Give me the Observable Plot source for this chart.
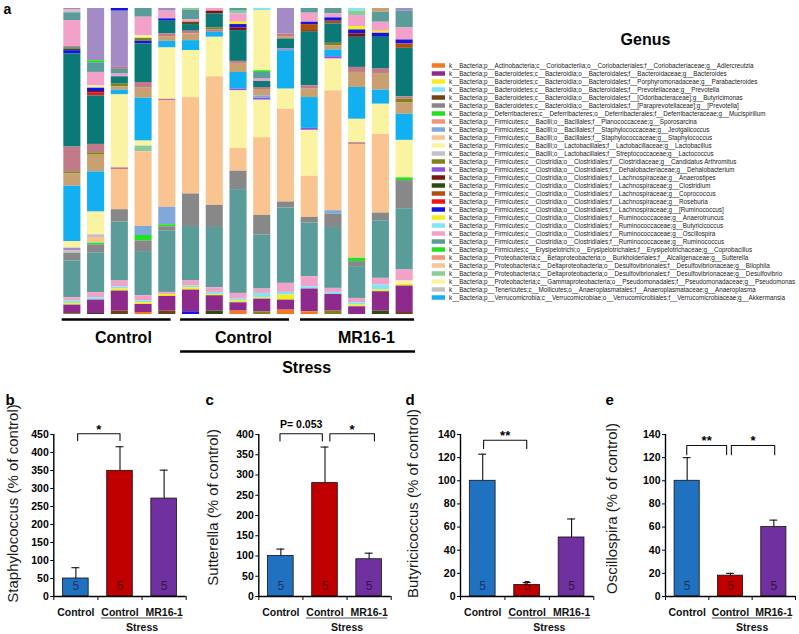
<!DOCTYPE html>
<html><head><meta charset="utf-8">
<script src="https://cdn.jsdelivr.net/npm/d3@7"></script>
<script src="https://cdn.jsdelivr.net/npm/@observablehq/plot@0.6"></script>
<style>
html,body{margin:0;padding:0;background:#fff;}
#fig{position:relative;width:799px;height:634px;overflow:hidden;background:#fff;}
#fig > svg{position:absolute;}
</style></head><body><div id="fig"></div>
<script>
// ---------- Panel a: relative abundance per sample (top -> bottom) ----------
const bar01 = [["otherB",3],["Oscillospira",4],["Lactococcus",6],["Ruminococcus",23],["Oscillospira",78],["[Prevotella]",7],["Clostridium",5],["[Ruminococcus]",10],["otherA",278],["otherC",74],["Candidatus Arthromitus",6],["otherD",37],["Akkermansia",165],["Lactobacillus",20],["otherB",8],["Lactococcus",7],["[Prevotella]",23],["Ruminococcus",110],["Oscillospira",10],["Butyricicoccus",7],["Anaerotruncus",5],["Bacteroides",25],["Candidatus Arthromitus",3]];
const bar02 = [["otherB",156],["Mucispirillum",6],["Ruminococcus",29],["Oscillospira",40],["Pseudomonas",7],["[Ruminococcus]",10],["Anaerostipes",5],["Roseburia",8],["otherA",145],["otherC",25],["Candidatus Arthromitus",7],["otherD",50],["Akkermansia",120],["Lactobacillus",68],["Lactococcus",8],["Staphylococcus",17],["Mucispirillum",5],["[Prevotella]",25],["Ruminococcus",118],["Oscillospira",15],["Butyricicoccus",7],["Bacteroides",40],["Clostridium",3]];
const bar03 = [["[Ruminococcus]",8],["otherB",168],["otherC",6],["Ruminococcus",14],["Oscillospira",8],["otherA",22],["Candidatus Arthromitus",8],["otherD",10],["Akkermansia",14],["Lactobacillus",218],["otherC",5],["Staphylococcus",120],["[Prevotella]",37],["Ruminococcus",176],["Oscillospira",18],["Butyricicoccus",6],["Anaerotruncus",6],["Bacteroides",60],["Butyricimonas",10]];
const bar04 = [["Ruminococcus",26],["Oscillospira",55],["Lactobacillus",8],["Candidatus Arthromitus",9],["[Ruminococcus]",8],["otherA",115],["otherC",17],["otherD",30],["Akkermansia",128],["Lactobacillus",15],["Desulfovibrio",17],["Staphylococcus",223],["Jeotgalicoccus",27],["Mucispirillum",16],["[Prevotella]",32],["Ruminococcus",132],["Oscillospira",16],["Butyricicoccus",5],["Anaerotruncus",5],["Bacteroides",24],["Adlercreutzia",6]];
const bar05 = [["otherB",8],["Oscillospira",23],["[Ruminococcus]",7],["otherA",38],["otherC",8],["otherD",14],["Akkermansia",20],["Lactobacillus",153],["otherC",5],["Staphylococcus",318],["Jeotgalicoccus",52],["Mucispirillum",6],["[Prevotella]",12],["Ruminococcus",184],["Oscillospira",6],["Anaerotruncus",6],["Bacteroides",44],["Butyricimonas",10]];
const bar06 = [["Desulfovibrio",6],["Ruminococcus",28],["Oscillospira",7],["Butyricimonas",7],["otherA",20],["otherC",8],["otherD",20],["Akkermansia",30],["Lactobacillus",140],["Staphylococcus",288],["[Prevotella]",97],["Ruminococcus",163],["Oscillospira",15],["Butyricicoccus",5],["Anaerotruncus",7],["Bacteroides",65],["[Ruminococcus]",8]];
const bar07 = [["Oscillospira",8],["Anaerostipes",8],["otherA",42],["Candidatus Arthromitus",6],["otherC",7],["Akkermansia",15],["Lactobacillus",118],["Staphylococcus",384],["[Prevotella]",66],["Ruminococcus",180],["Oscillospira",14],["Butyricicoccus",6],["Anaerotruncus",4],["Bacteroides",46],["Clostridium",10]];
const bar08 = [["Ruminococcus",8],["Desulfovibrio",8],["Oscillospira",25],["Anaerotruncus",7],["[Ruminococcus]",10],["Anaerostipes",8],["otherA",92],["otherC",6],["otherD",27],["Akkermansia",50],["Dehalobacterium",5],["Lactobacillus",172],["Staphylococcus",68],["[Prevotella]",55],["Ruminococcus",310],["Oscillospira",17],["Butyricicoccus",6],["Anaerotruncus",5],["Bacteroides",25],["Adlercreutzia",10]];
const bar09 = [["Butyricicoccus",6],["Lactobacillus",180],["Mucispirillum",5],["Ruminococcus",20],["Oscillospira",7],["otherA",18],["otherC",6],["otherD",19],["Jeotgalicoccus",7],["Dehalobacterium",6],["Lactobacillus",112],["Staphylococcus",232],["[Prevotella]",58],["Ruminococcus",162],["Oscillospira",13],["Butyricicoccus",13],["Anaerotruncus",4],["Bacteroides",38],["Candidatus Arthromitus",8]];
const bar10 = [["otherB",76],["otherC",8],["otherD",7],["otherA",30],["otherB",5],["Akkermansia",115],["Lactobacillus",60],["Staphylococcus",277],["[Prevotella]",18],["Ruminococcus",225],["Oscillospira",27],["Butyricicoccus",8],["Anaerotruncus",15],["Bacteroides",30],["Adlercreutzia",13]];
const bar11 = [["Ruminococcus",14],["Oscillospira",27],["[Ruminococcus]",7],["Coprococcus",18],["Butyricimonas",5],["otherA",160],["otherC",10],["otherD",25],["Akkermansia",92],["Dehalobacterium",6],["Lactobacillus",137],["Staphylococcus",123],["[Prevotella]",17],["Ruminococcus",160],["Oscillospira",30],["Butyricicoccus",7],["Bacteroides",68],["Adlercreutzia",8]];
const bar12 = [["Ruminococcus",16],["Oscillospira",12],["[Ruminococcus]",10],["Coprococcus",8],["otherA",58],["Candidatus Arthromitus",7],["otherD",13],["Akkermansia",20],["Dehalobacterium",7],["Lactobacillus",95],["Staphylococcus",358],["Jeotgalicoccus",10],["[Prevotella]",40],["Ruminococcus",182],["Oscillospira",12],["Butyricicoccus",6],["Bacteroides",50],["Candidatus Arthromitus",10]];
const bar13 = [["Butyricicoccus",8],["Desulfovibrio",13],["Oscillospira",33],["Anaerotruncus",10],["[Ruminococcus]",12],["Anaerostipes",10],["otherA",90],["otherC",15],["otherD",45],["Akkermansia",95],["Lactobacillus",70],["otherC",5],["Staphylococcus",340],["Mucispirillum",10],["[Prevotella]",15],["Ruminococcus",95],["Oscillospira",13],["Butyricicoccus",7],["Anaerotruncus",5],["Bacteroides",23]];
const bar14 = [["otherD",11],["Ruminococcus",30],["Oscillospira",27],["Anaerotruncus",6],["[Ruminococcus]",12],["otherA",95],["otherC",13],["otherD",50],["Akkermansia",42],["Lactobacillus",90],["Staphylococcus",235],["[Prevotella]",23],["Ruminococcus",172],["Oscillospira",20],["Butyricicoccus",15],["Anaerotruncus",5],["Bacteroides",58],["Clostridium",10]];
const bar15 = [["otherB",8],["Ruminococcus",50],["Oscillospira",36],["[Ruminococcus]",12],["Coprococcus",13],["otherA",145],["otherC",7],["Candidatus Arthromitus",10],["otherD",35],["Akkermansia",78],["Lactobacillus",112],["Mucispirillum",8],["[Prevotella]",84],["Ruminococcus",183],["Oscillospira",33],["Pseudomonas",10],["Anaerotruncus",5],["Bacteroides",79],["Butyricimonas",6]];
const barsA = [bar01,bar02,bar03,bar04,bar05,bar06,bar07,bar08,bar09,bar10,bar11,bar12,bar13,bar14,bar15];

const groupLabels = ["Control","Control","MR16-1"];
const groupFrom = [0.57, 5.56, 10.61];
const groupTo = [5.16, 10.15, 15.42];
const groupLabelAt = [3.15, 8.21, 13.39];
const stressSpan = {label:"Stress", from:5.56, to:15.46, at:10.87};

// ---------- Legend ----------
const genera = ["Adlercreutzia","Bacteroides","Parabacteroides","Prevotella","Butyricimonas","[Prevotella]","Mucispirillum","Sporosarcina","Jeotgalicoccus","Staphylococcus","Lactobacillus","Lactococcus","Candidatus Arthromitus","Dehalobacterium","Anaerostipes","Clostridium","Coprococcus","Roseburia","[Ruminococcus]","Anaerotruncus","Butyricicoccus","Oscillospira","Ruminococcus","Coprobacillus","Sutterella","Bilophila","Desulfovibrio","Pseudomonas","Anaeroplasma","Akkermansia"];
const taxonomy = [
"k__Bacteria;p__Actinobacteria;c__Coriobacteriia;o__Coriobacteriales;f__Coriobacteriaceae;g__Adlercreutzia",
"k__Bacteria;p__Bacteroidetes;c__Bacteroidia;o__Bacteroidales;f__Bacteroidaceae;g__Bacteroides",
"k__Bacteria;p__Bacteroidetes;c__Bacteroidia;o__Bacteroidales;f__Porphyromonadaceae;g__Parabacteroides",
"k__Bacteria;p__Bacteroidetes;c__Bacteroidia;o__Bacteroidales;f__Prevotellaceae;g__Prevotella",
"k__Bacteria;p__Bacteroidetes;c__Bacteroidia;o__Bacteroidales;f__[Odoribacteraceae];g__Butyricimonas",
"k__Bacteria;p__Bacteroidetes;c__Bacteroidia;o__Bacteroidales;f__[Paraprevotellaceae];g__[Prevotella]",
"k__Bacteria;p__Deferribacteres;c__Deferribacteres;o__Deferribacterales;f__Deferribacteraceae;g__Mucispirillum",
"k__Bacteria;p__Firmicutes;c__Bacilli;o__Bacillales;f__Planococcaceae;g__Sporosarcina",
"k__Bacteria;p__Firmicutes;c__Bacilli;o__Bacillales;f__Staphylococcaceae;g__Jeotgalicoccus",
"k__Bacteria;p__Firmicutes;c__Bacilli;o__Bacillales;f__Staphylococcaceae;g__Staphylococcus",
"k__Bacteria;p__Firmicutes;c__Bacilli;o__Lactobacillales;f__Lactobacillaceae;g__Lactobacillus",
"k__Bacteria;p__Firmicutes;c__Bacilli;o__Lactobacillales;f__Streptococcaceae;g__Lactococcus",
"k__Bacteria;p__Firmicutes;c__Clostridia;o__Clostridiales;f__Clostridiaceae;g__Candidatus Arthromitus",
"k__Bacteria;p__Firmicutes;c__Clostridia;o__Clostridiales;f__Dehalobacteriaceae;g__Dehalobacterium",
"k__Bacteria;p__Firmicutes;c__Clostridia;o__Clostridiales;f__Lachnospiraceae;g__Anaerostipes",
"k__Bacteria;p__Firmicutes;c__Clostridia;o__Clostridiales;f__Lachnospiraceae;g__Clostridium",
"k__Bacteria;p__Firmicutes;c__Clostridia;o__Clostridiales;f__Lachnospiraceae;g__Coprococcus",
"k__Bacteria;p__Firmicutes;c__Clostridia;o__Clostridiales;f__Lachnospiraceae;g__Roseburia",
"k__Bacteria;p__Firmicutes;c__Clostridia;o__Clostridiales;f__Lachnospiraceae;g__[Ruminococcus]",
"k__Bacteria;p__Firmicutes;c__Clostridia;o__Clostridiales;f__Ruminococcaceae;g__Anaerotruncus",
"k__Bacteria;p__Firmicutes;c__Clostridia;o__Clostridiales;f__Ruminococcaceae;g__Butyricicoccus",
"k__Bacteria;p__Firmicutes;c__Clostridia;o__Clostridiales;f__Ruminococcaceae;g__Oscillospira",
"k__Bacteria;p__Firmicutes;c__Clostridia;o__Clostridiales;f__Ruminococcaceae;g__Ruminococcus",
"k__Bacteria;p__Firmicutes;c__Erysipelotrichi;o__Erysipelotrichales;f__Erysipelotrichaceae;g__Coprobacillus",
"k__Bacteria;p__Proteobacteria;c__Betaproteobacteria;o__Burkholderiales;f__Alcaligenaceae;g__Sutterella",
"k__Bacteria;p__Proteobacteria;c__Deltaproteobacteria;o__Desulfovibrionales;f__Desulfovibrionaceae;g__Bilophila",
"k__Bacteria;p__Proteobacteria;c__Deltaproteobacteria;o__Desulfovibrionales;f__Desulfovibrionaceae;g__Desulfovibrio",
"k__Bacteria;p__Proteobacteria;c__Gammaproteobacteria;o__Pseudomonadales;f__Pseudomonadaceae;g__Pseudomonas",
"k__Bacteria;p__Tenericutes;c__Mollicutes;o__Anaeroplasmatales;f__Anaeroplasmataceae;g__Anaeroplasma",
"k__Bacteria;p__Verrucomicrobia;c__Verrucomicrobiae;o__Verrucomicrobiales;f__Verrucomicrobiaceae;g__Akkermansia"];
const generaColors = ["#f07a22","#8e2a8c","#f6ee22","#82e6f0","#6e4214","#888888","#22e022","#f0947a","#80a8d8","#f9c490","#faf4a2","#c2c2c2","#82821a","#8c52e2","#801212","#304c12","#b04e12","#ee1616","#1414dc","#f4ee18","#82e6f0","#f2a2c8","#5a9c9a","#22e022","#f0947a","#f9c490","#88cc9a","#faf4a2","#c2c2c2","#12b0f0"];
const otherKeys = ["otherA","otherB","otherC","otherD"];
const otherColors = ["#0b7a76","#a38cc6","#c27a88","#c9a070"];

// ---------- Panels b-e ----------
const groupsB = ["Control","Control","MR16-1"];
const nB = [5,5,5];
const barFills = ["#2171c1","#c00000","#7030a0"];
const numberInks = ["#1c3466","#5c0000","#2e1848"];
const staphMean = [50, 349, 272], staphSem = [30, 67, 79];
const suttMean = [100, 280, 92], suttSem = [17, 89, 15];
const butyMean = [100, 10, 51], butySem = [23, 2, 16];
const osciMean = [100, 18, 60], osciSem = [20, 2, 6];
const staphBrackets = [{from:0.54, to:1.50, top:452, drop:19, label:"*"}];
const suttBrackets = [{from:0.48, to:1.44, top:402, drop:18, label:"P= 0.053"},{from:1.61, to:2.62, top:402, drop:18, label:"*"}];
const butyBrackets = [{from:0.52, to:1.49, top:135, drop:7, label:"**"}];
const osciBrackets = [{from:0.49, to:1.41, top:130.5, drop:8, label:"**"},{from:1.52, to:2.52, top:130.5, drop:8, label:"*"}];

const FONT = "'Liberation Sans', Arial, Helvetica, sans-serif";
const fig = document.getElementById("fig");
function place(svg, left, top){ svg.style.left = left+"px"; svg.style.top = top+"px"; fig.appendChild(svg); }

// ---- panel a plot ----
const rowsA = barsA.flatMap((bar, i) => bar.map(([genus, v]) => ({sample: i + 1, genus, v})));
const groupRows = groupLabels.map((label, i) => ({label, from: groupFrom[i], to: groupTo[i], at: groupLabelAt[i]}));
const colorDomain = [...genera, ...otherKeys];
const colorRange = [...generaColors, ...otherColors];

const plotA = Plot.plot({
  width: 420, height: 380, marginLeft: 60, marginRight: 4, marginTop: 8, marginBottom: 66,
  x: {domain: [0.5, 15.5], axis: null},
  y: {domain: [0, 1], reverse: true, axis: null},
  color: {type: "ordinal", domain: colorDomain, range: colorRange},
  style: {fontFamily: FONT, background: "transparent", overflow: "visible", color: "#000"},
  marks: [
    Plot.rectY(rowsA, Plot.stackY({offset: "normalize", x1: d => d.sample - 0.36, x2: d => d.sample + 0.36, y: "v", fill: "genus"})),
    Plot.ruleY(groupRows, {x1: "from", x2: "to", y: () => 1, dy: 5, stroke: "#000", strokeWidth: 2.6}),
    Plot.text(groupRows, {x: "at", y: () => 1, dy: 23, text: "label", fontSize: 16, fontWeight: "bold", lineAnchor: "middle"}),
    Plot.ruleY([stressSpan], {x1: "from", x2: "to", y: () => 1, dy: 37, stroke: "#000", strokeWidth: 2.6}),
    Plot.text([stressSpan], {x: "at", y: () => 1, dy: 53, text: "label", fontSize: 16, fontWeight: "bold", lineAnchor: "middle"}),
    Plot.text(["a"], {frameAnchor: "top-left", dx: -57, dy: 5, textAnchor: "start", lineAnchor: "bottom", fontSize: 14, fontWeight: "bold"})
  ]
});
place(plotA, 0, 0);

// ---- legend plot ----
const plotLegend = Plot.plot({
  width: 379, height: 320, marginLeft: 0, marginRight: 0, marginTop: 0, marginBottom: 0,
  x: {domain: [0, 379], range: [0, 379], axis: null},
  y: {type: "point", domain: genera, range: [52, 52 + 29 * 8.88], axis: null},
  color: {type: "ordinal", domain: colorDomain, range: colorRange},
  style: {fontFamily: FONT, background: "transparent", overflow: "visible", color: "#000"},
  marks: [
    Plot.ruleY(genera, {y: d => d, x1: 11.7, x2: 25, stroke: d => d, strokeWidth: 4.5}),
    Plot.text(taxonomy, {y: (d, i) => genera[i], x: 28.5, text: d => d, textAnchor: "start", lineAnchor: "middle", fontSize: 6.3, fill: "#222"}),
    Plot.text(["Genus"], {x: 225, frameAnchor: "top", dy: 44, lineAnchor: "bottom", fontSize: 16, fontWeight: "bold"})
  ]
});
place(plotLegend, 420, 0);

// ---- bar panels ----
function barPanel(cfg) {
  const {left, width, mL, mR, yMax, yStep, title, titleX, titleDy, letter, means, sems, brackets} = cfg;
  const rows = groupsB.map((label, i) => ({i, label, mean: means[i], sem: sems[i], n: nB[i], fill: barFills[i], ink: numberInks[i]}));
  const bracketPts = brackets.flatMap((b, k) => [
    {k, x: b.from, y: b.top - b.drop}, {k, x: b.from, y: b.top}, {k, x: b.to, y: b.top}, {k, x: b.to, y: b.top - b.drop}
  ]);
  const starLabels = brackets.filter(b => b.label.length <= 2);
  const textLabels = brackets.filter(b => b.label.length > 2);
  const svg = Plot.plot({
    width, height: 254, marginLeft: mL, marginRight: mR, marginTop: 54, marginBottom: 38,
    x: {domain: [0, 3], axis: null},
    y: {domain: [0, yMax], axis: null},
    color: {type: "identity"},
    style: {fontFamily: FONT, background: "transparent", overflow: "visible", color: "#000"},
    marks: [
      Plot.rectY(rows, {x1: d => d.i + 0.21, x2: d => d.i + 0.79, y: "mean", fill: "fill", stroke: "#111", strokeWidth: 0.8}),
      Plot.ruleX(rows, {x: d => d.i + 0.5, y1: "mean", y2: d => d.mean + d.sem, stroke: "#111", strokeWidth: 1.1}),
      Plot.ruleY(rows, {y: d => d.mean + d.sem, x1: d => d.i + 0.41, x2: d => d.i + 0.59, stroke: "#111", strokeWidth: 1.1}),
      Plot.text(rows, {x: d => d.i + 0.5, y: () => 0, dy: -10, text: d => String(d.n), fill: "ink", fontSize: 12, lineAnchor: "middle"}),
      Plot.ruleY([0], {stroke: "#000", strokeWidth: 1.4}),
      Plot.ruleX([0], {y1: 0, y2: yMax, stroke: "#000", strokeWidth: 1.4}),
      Plot.axisY({ticks: d3.range(0, yMax + 1, yStep), tickSize: 3, tickPadding: 2, fontSize: 10.5, fontWeight: "bold", label: null, stroke: "#000"}),
      Plot.axisX({ticks: [0, 1, 2, 3], tickSize: 4, tickFormat: () => "", label: null, stroke: "#000"}),
      Plot.text(rows, {x: d => d.i + 0.5, y: () => 0, dy: 16, text: "label", fontSize: 10.5, fontWeight: "bold", lineAnchor: "middle", fill: "#111"}),
      Plot.ruleY(["Stress"], {x1: 1.08, x2: 2.92, y: () => 0, dy: 21.5, stroke: "#555", strokeWidth: 1}),
      Plot.text(["Stress"], {x: 2.0, y: () => 0, dy: 31, fontSize: 10.5, fontWeight: "bold", lineAnchor: "middle", fill: "#111"}),
      Plot.line(bracketPts, {x: "x", y: "y", z: "k", stroke: "#111", strokeWidth: 1.1}),
      Plot.text(starLabels, {x: d => (d.from + d.to) / 2, y: "top", text: "label", dy: 0, lineAnchor: "bottom", fontSize: 13, fontWeight: "bold"}),
      Plot.text(textLabels, {x: d => (d.from + d.to) / 2, y: "top", text: "label", dy: -6, lineAnchor: "bottom", fontSize: 10.5, fontWeight: "bold"}),
      Plot.text([title], {frameAnchor: "left", dx: titleX - mL, dy: titleDy, rotate: -90, fontSize: 15, textAnchor: "middle", lineAnchor: "middle", fill: "#1a1a1a"}),
      Plot.text([letter], {frameAnchor: "top-left", dx: 5 - mL, dy: -30, textAnchor: "start", lineAnchor: "bottom", fontSize: 15, fontWeight: "bold"})
    ]
  });
  place(svg, left, 380);
}

barPanel({left: 0, width: 200, mL: 53.3, mR: 14.3, yMax: 450, yStep: 50, title: "Staphylococcus (% of control)", titleX: 13, titleDy: -12, letter: "b", means: staphMean, sems: staphSem, brackets: staphBrackets});
barPanel({left: 200, width: 200, mL: 58.3, mR: 9.3, yMax: 400, yStep: 50, title: "Sutterella (% of control)", titleX: 13, titleDy: -8, letter: "c", means: suttMean, sems: suttSem, brackets: suttBrackets});
barPanel({left: 400, width: 200, mL: 60, mR: 6.7, yMax: 140, yStep: 20, title: "Butyricicoccus (% of control)", titleX: 12.7, titleDy: -12, letter: "d", means: butyMean, sems: butySem, brackets: butyBrackets});
barPanel({left: 600, width: 199, mL: 65, mR: 4, yMax: 140, yStep: 20, title: "Oscillospira (% of control)", titleX: 11.7, titleDy: -7, letter: "e", means: osciMean, sems: osciSem, brackets: osciBrackets});
</script></body></html>
